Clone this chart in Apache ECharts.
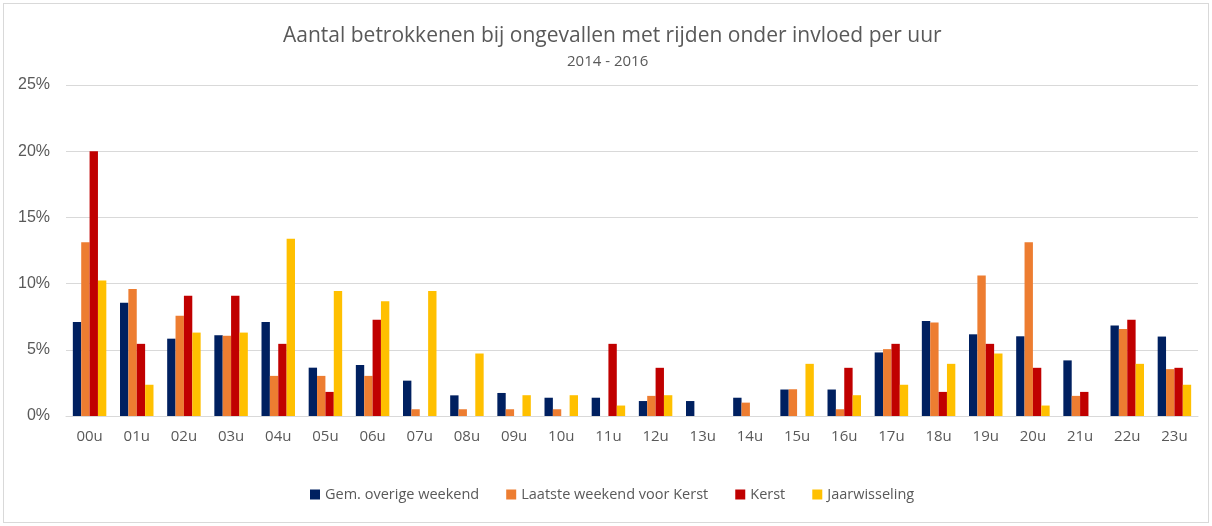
<!DOCTYPE html>
<html>
<head>
<meta charset="utf-8">
<script src="https://cdn.jsdelivr.net/npm/echarts@6/dist/echarts.min.js"></script>
<style>
  html, body { margin: 0; padding: 0; background: #fff; }
  #chart { width: 1212px; height: 526px; }
  .frame { position: absolute; left: 3px; top: 3px; width: 1204px; height: 518px; border: 1px solid #d9d9d9; pointer-events: none; }
</style>
</head>
<body>
<div id="chart"></div>
<div class="frame"></div>
<script>
// uren
const hours = ['00u', '01u', '02u', '03u', '04u', '05u', '06u', '07u', '08u', '09u', '10u', '11u',
  '12u', '13u', '14u', '15u', '16u', '17u', '18u', '19u', '20u', '21u', '22u', '23u']

// percentages per uur
const gemOverigeWeekend = [7.1, 8.56, 5.84, 6.1, 7.1, 3.65, 3.85, 2.67, 1.56, 1.74, 1.38, 1.38,
  1.13, 1.13, 1.38, 2.0, 2.0, 4.8, 7.18, 6.17, 6.02, 4.2, 6.84, 6.0]
const laatsteWeekendVoorKerst = [13.13, 9.6, 7.58, 6.06, 3.03, 3.03, 3.03, 0.51, 0.51, 0.51, 0.51, 0,
  1.52, 0, 1.01, 2.02, 0.51, 5.05, 7.07, 10.61, 13.13, 1.52, 6.57, 3.54]
const kerst = [20.0, 5.45, 9.09, 9.09, 5.45, 1.82, 7.27, 0, 0, 0, 0, 5.45,
  3.64, 0, 0, 0, 3.64, 5.45, 1.82, 5.45, 3.64, 1.82, 7.27, 3.64]
const jaarwisseling = [10.24, 2.36, 6.3, 6.3, 13.39, 9.45, 8.66, 9.45, 4.72, 1.57, 1.57, 0.79,
  1.57, 0, 0, 3.94, 1.57, 2.36, 3.94, 4.72, 0.79, 0, 3.94, 2.36]

const yTicks = ['0%', '5%', '10%', '15%', '20%', '25%']

const font = '"Open Sans", sans-serif'
const textColor = '#595959'

const seriesDefs = [
  { name: 'Gem. overige weekend', data: gemOverigeWeekend, color: '#002060' },
  { name: 'Laatste weekend voor Kerst', data: laatsteWeekendVoorKerst, color: '#ED7D31' },
  { name: 'Kerst', data: kerst, color: '#C00000' },
  { name: 'Jaarwisseling', data: jaarwisseling, color: '#FFC000' }
]

const chart = echarts.init(document.getElementById('chart'), null, { renderer: 'canvas' })
chart.setOption({
  animation: false,
  textStyle: { fontFamily: font },
  title: [
    {
      text: 'Aantal betrokkenen bij ongevallen met rijden onder invloed per uur',
      left: 278,
      top: 21,
      textStyle: { fontFamily: font, fontSize: 21, fontWeight: 'normal', color: textColor }
    },
    {
      text: '2014 - 2016',
      left: 562,
      top: 49,
      textStyle: { fontFamily: font, fontSize: 15, fontWeight: 'normal', color: textColor }
    }
  ],
  legend: {
    bottom: 19,
    left: 305,
    itemWidth: 10,
    itemHeight: 10,
    itemGap: 27,
    icon: 'rect',
    textStyle: { fontFamily: font, fontSize: 14.5, color: textColor },
    data: seriesDefs.map((s) => s.name)
  },
  grid: { left: 66, right: 14, top: 85, height: 331, containLabel: false },
  xAxis: {
    type: 'category',
    data: hours,
    axisTick: { show: false },
    axisLine: { lineStyle: { color: '#d9d9d9', width: 1 } },
    axisLabel: { color: textColor, fontSize: 15, margin: 13, fontFamily: font }
  },
  yAxis: {
    type: 'value',
    min: 0,
    max: 25,
    interval: 5,
    axisLine: { show: false },
    axisTick: { show: false },
    splitLine: { lineStyle: { color: '#d9d9d9', width: 1 } },
    axisLabel: {
      color: textColor,
      fontSize: 16,
      margin: 16,
      fontFamily: '"Liberation Sans", Arial, sans-serif',
      formatter: (v) => yTicks[Math.round(v / 5)]
    }
  },
  series: seriesDefs.map((s) => ({
    type: 'bar',
    name: s.name,
    data: s.data,
    barGap: '0%',
    barCategoryGap: '29%',
    itemStyle: { color: s.color },
    emphasis: { disabled: true }
  }))
})
</script>
</body>
</html>
